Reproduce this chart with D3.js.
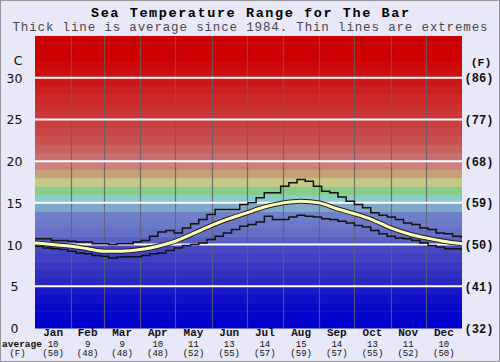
<!DOCTYPE html>
<html>
<head>
<meta charset="utf-8">
<script src="https://cdn.jsdelivr.net/npm/d3@7"></script>
<style>
  body { margin: 0; background: #fff; }
  svg { display: block; }
</style>
</head>
<body>
<div id="chart"></div>
<script>
// chart values
var months = ['Jan', 'Feb', 'Mar', 'Apr', 'May', 'Jun', 'Jul', 'Aug', 'Sep', 'Oct', 'Nov', 'Dec'];
var monthDays = [31, 28, 31, 30, 31, 30, 31, 31, 30, 31, 30, 31];
var avgC = [10, 9, 9, 10, 11, 13, 14, 15, 14, 13, 11, 10];
var avgF = [50, 48, 48, 48, 52, 55, 57, 59, 57, 55, 52, 50];

var leftTicks = [0, 5, 10, 15, 20, 25, 30];
var rightTicks = ['(32)', '(41)', '(50)', '(59)', '(68)', '(77)', '(86)'];

// average curve (day of year, deg C)
var avgDays = [0, 15, 31, 45, 59, 74, 90, 105, 120, 135, 151, 166, 181, 196, 212, 227, 243, 258, 273, 288, 304, 319, 334, 349, 365];
var avgTemp = [10.2, 10.0, 9.8, 9.5, 9.2, 9.2, 9.4, 9.8, 10.4, 11.3, 12.3, 13.1, 13.8, 14.5, 15.0, 15.2, 15.0, 14.3, 13.7, 13.0, 12.0, 11.3, 10.8, 10.4, 10.1];

// extremes, one value a week
var extDays = d3.range(0, 365, 7);
var maxTemp = [10.7, 10.7, 10.5, 10.5, 10.4, 10.3, 10.3, 10.1, 10.1, 10.0, 10.1, 10.1, 10.3, 10.5, 11.0, 11.5, 11.7, 11.4,
  12.0, 12.5, 13.0, 13.6, 14.2, 14.2, 14.2, 14.8, 15.0, 15.6, 16.2, 16.2, 17.0, 17.4, 17.8, 17.6, 17.0, 16.4, 16.2,
  15.7, 15.2, 14.8, 14.4, 13.8, 13.5, 13.3, 13.0, 12.6, 12.4, 12.0, 11.8, 11.4, 11.3, 11.0, 10.9];
var minTemp = [9.8, 9.6, 9.5, 9.4, 9.2, 9.0, 8.9, 8.7, 8.6, 8.4, 8.5, 8.55, 8.55, 8.7, 8.9, 9.0, 9.3, 9.6,
  9.9, 10.0, 10.2, 10.6, 11.0, 11.4, 11.8, 12.2, 12.4, 12.7, 13.4, 13.0, 13.0, 13.3, 13.5, 13.4, 13.3, 13.1, 13.0,
  12.8, 12.6, 12.3, 12.1, 11.7, 11.3, 11.0, 10.8, 10.7, 10.5, 10.2, 9.9, 9.7, 9.5, 9.5, 9.4];

// background band colours, one per degree from 0 upwards
var bandColors = ['#0000cc', '#0404cc', '#0808c8', '#1010c8', '#1818c8',
  '#2828c0', '#3030c0', '#3838c0', '#4040c4', '#4848c4',
  '#5860c4', '#6470c8', '#6c78c8', '#7080c8', '#80a8c8',
  '#88cccc', '#88cc88', '#c8c888', '#c8a078', '#cc8080',
  '#c87070', '#c86060', '#c85050', '#c84848', '#c84040',
  '#cc3838', '#cc3030', '#cc2828', '#cc2020', '#cc1818',
  '#cc1010', '#cc0808', '#cc0000', '#cc0000', '#cc0000'];

var svgWidth = 500;
var svgHeight = 362;
var margin = { top: 36, right: 38, bottom: 34, left: 35 };
var width = svgWidth - margin.left - margin.right;
var height = svgHeight - margin.top - margin.bottom;

var svg = d3.select('#chart').append('svg')
  .attr('width', svgWidth)
  .attr('height', svgHeight);

svg.append('rect')
  .attr('x', 0.5).attr('y', 0.5)
  .attr('width', svgWidth - 1).attr('height', svgHeight - 1)
  .attr('fill', '#e8e8f8')
  .attr('stroke', '#999');

var mono = "'Liberation Mono', 'DejaVu Sans Mono', monospace";

svg.append('text')
  .attr('x', svgWidth / 2).attr('y', 17)
  .attr('text-anchor', 'middle')
  .attr('font-family', mono).attr('font-weight', 'bold').attr('font-size', 13.5)
  .attr('textLength', 318).attr('lengthAdjust', 'spacing')
  .text('Sea Temperature Range for The Bar');

svg.append('text')
  .attr('x', svgWidth / 2).attr('y', 31)
  .attr('text-anchor', 'middle')
  .attr('font-family', mono).attr('font-size', 12.5)
  .attr('textLength', 475).attr('lengthAdjust', 'spacing')
  .attr('fill', '#4a4a4a')
  .text('Thick line is average since 1984. Thin lines are extremes');

var chartGroup = svg.append('g')
  .attr('transform', `translate(${margin.left}, ${margin.top})`);

var x = d3.scaleLinear().domain([0, 365]).range([0, width]);
var y = d3.scaleLinear().domain([0, 35]).range([height, 0]);

// colour bands
chartGroup.selectAll('.band')
  .data(bandColors)
  .enter()
  .append('rect')
  .attr('x', 0)
  .attr('y', (d, i) => y(i + 1))
  .attr('width', width)
  .attr('height', (d, i) => y(i) - y(i + 1) + 0.5)
  .attr('fill', d => d);

// month boundaries
var monthStart = [0];
monthDays.forEach(function(d, i) { monthStart.push(monthStart[i] + d); });

chartGroup.selectAll('.vline')
  .data(monthStart.slice(1, 12))
  .enter()
  .append('line')
  .attr('x1', d => Math.round(x(d)) + 0.5)
  .attr('x2', d => Math.round(x(d)) + 0.5)
  .attr('y1', 0).attr('y2', height)
  .attr('stroke', '#606068')
  .attr('stroke-opacity', 0.8)
  .attr('stroke-width', 1.2);

// white degree lines
chartGroup.selectAll('.hline')
  .data(leftTicks.filter(d => d > 0))
  .enter()
  .append('line')
  .attr('x1', 0).attr('x2', width)
  .attr('y1', d => y(d)).attr('y2', d => y(d))
  .attr('stroke', '#ffffff')
  .attr('stroke-width', 2);

// extremes
var stepLine = d3.line()
  .x(d => x(d[0]))
  .y(d => y(d[1]))
  .curve(d3.curveStepAfter);

[maxTemp, minTemp].forEach(function(series) {
  var pts = extDays.map((d, i) => [d, series[i]]);
  pts.push([365, series[series.length - 1]]);
  chartGroup.append('path')
    .datum(pts)
    .attr('d', stepLine)
    .attr('fill', 'none')
    .attr('stroke', '#111')
    .attr('stroke-width', 1.5);
});

// average
var avgLine = d3.line()
  .x(d => x(d[0]))
  .y(d => y(d[1]))
  .curve(d3.curveMonotoneX);
var avgPts = avgDays.map((d, i) => [d, avgTemp[i]]);

chartGroup.append('path')
  .datum(avgPts)
  .attr('d', avgLine)
  .attr('fill', 'none')
  .attr('stroke', '#222')
  .attr('stroke-width', 5);

chartGroup.append('path')
  .datum(avgPts)
  .attr('d', avgLine)
  .attr('fill', 'none')
  .attr('stroke', '#ffffb8')
  .attr('stroke-width', 3);

// left axis labels
var sans = "'DejaVu Sans', Verdana, sans-serif";
svg.selectAll('.ltick')
  .data(leftTicks)
  .enter()
  .append('text')
  .attr('x', 14.5)
  .attr('y', d => margin.top + y(d) + 5)
  .attr('text-anchor', 'middle')
  .attr('font-family', sans).attr('font-size', 12.5)
  .attr('fill', '#111')
  .text(d => d);

svg.append('text')
  .attr('x', 18).attr('y', 65)
  .attr('text-anchor', 'middle')
  .attr('font-family', sans).attr('font-size', 12.5)
  .attr('fill', '#111')
  .text('C');

// right axis labels
svg.selectAll('.rtick')
  .data(rightTicks)
  .enter()
  .append('text')
  .attr('x', 479)
  .attr('y', (d, i) => margin.top + y(leftTicks[i]) + 4.5)
  .attr('text-anchor', 'middle')
  .attr('font-family', mono).attr('font-weight', 'bold').attr('font-size', 12)
  .attr('fill', '#111')
  .text(d => d);

svg.append('text')
  .attr('x', 481).attr('y', 66)
  .attr('text-anchor', 'middle')
  .attr('font-family', mono).attr('font-weight', 'bold').attr('font-size', 11.5)
  .attr('fill', '#111')
  .text('(F)');

// bottom labels
var bottom = svg.append('g');
months.forEach(function(m, i) {
  var cx = margin.left + x(monthStart[i] + monthDays[i] / 2);
  bottom.append('text')
    .attr('x', cx).attr('y', 336)
    .attr('text-anchor', 'middle')
    .attr('font-family', mono).attr('font-weight', 'bold').attr('font-size', 11)
    .attr('fill', '#111')
    .text(m);
  bottom.append('text')
    .attr('x', cx).attr('y', 346.5)
    .attr('text-anchor', 'middle')
    .attr('font-family', mono).attr('font-size', 9)
    .attr('fill', '#111')
    .text(avgC[i]);
  bottom.append('text')
    .attr('x', cx).attr('y', 356)
    .attr('text-anchor', 'middle')
    .attr('font-family', mono).attr('font-size', 9)
    .attr('fill', '#111')
    .text('(' + avgF[i] + ')');
});

bottom.append('text')
  .attr('x', 22).attr('y', 346.5)
  .attr('text-anchor', 'middle')
  .attr('font-family', mono).attr('font-weight', 'bold').attr('font-size', 9.5)
  .attr('fill', '#111')
  .text('average');

bottom.append('text')
  .attr('x', 17.5).attr('y', 356)
  .attr('text-anchor', 'middle')
  .attr('font-family', mono).attr('font-size', 9)
  .attr('fill', '#111')
  .text('(F)');
</script>
</body>
</html>
